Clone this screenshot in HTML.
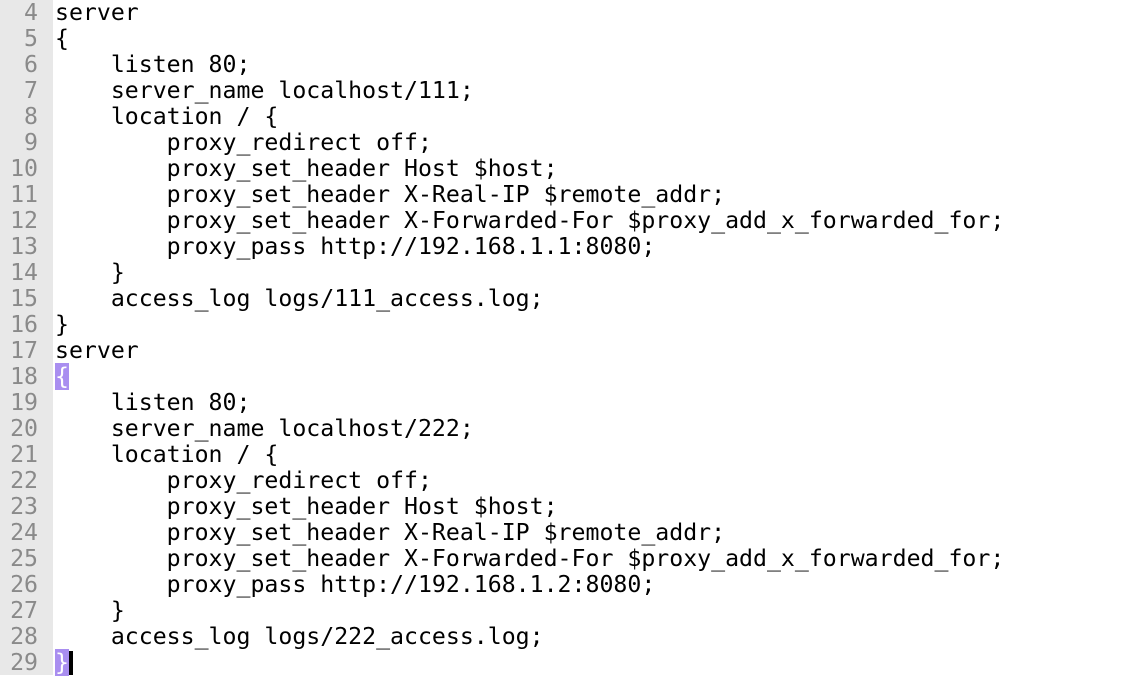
<!DOCTYPE html>
<html><head><style>
html,body{margin:0;padding:0;background:#fff;width:1136px;height:686px;overflow:hidden}
.g{position:absolute;left:0;top:0;width:53px;height:675px;background:#e8e8e8}
.w{position:absolute;left:0;top:0;font-family:"DejaVu Sans Mono","Liberation Mono",monospace;font-size:23.2px;line-height:26px}
.l{height:26px;white-space:pre;position:relative}
.n{display:inline-block;width:38px;text-align:right;color:#8a8a8a;margin-right:17px}
.c{color:#000}
.h{background:#a98ef0;color:#fff}
.cur{display:inline-block;width:4px;height:24px;background:#000;vertical-align:-5px}
</style></head><body>
<div class="g"></div>
<div class="w">
<div class="l"><span class="n">4</span><span class="c">server</span></div>
<div class="l"><span class="n">5</span><span class="c">{</span></div>
<div class="l"><span class="n">6</span><span class="c">    listen 80;</span></div>
<div class="l"><span class="n">7</span><span class="c">    server_name localhost/111;</span></div>
<div class="l"><span class="n">8</span><span class="c">    location / {</span></div>
<div class="l"><span class="n">9</span><span class="c">        proxy_redirect off;</span></div>
<div class="l"><span class="n">10</span><span class="c">        proxy_set_header Host $host;</span></div>
<div class="l"><span class="n">11</span><span class="c">        proxy_set_header X-Real-IP $remote_addr;</span></div>
<div class="l"><span class="n">12</span><span class="c">        proxy_set_header X-Forwarded-For $proxy_add_x_forwarded_for;</span></div>
<div class="l"><span class="n">13</span><span class="c">        proxy_pass http://192.168.1.1:8080;</span></div>
<div class="l"><span class="n">14</span><span class="c">    }</span></div>
<div class="l"><span class="n">15</span><span class="c">    access_log logs/111_access.log;</span></div>
<div class="l"><span class="n">16</span><span class="c">}</span></div>
<div class="l"><span class="n">17</span><span class="c">server</span></div>
<div class="l"><span class="n">18</span><span class="h">{</span></div>
<div class="l"><span class="n">19</span><span class="c">    listen 80;</span></div>
<div class="l"><span class="n">20</span><span class="c">    server_name localhost/222;</span></div>
<div class="l"><span class="n">21</span><span class="c">    location / {</span></div>
<div class="l"><span class="n">22</span><span class="c">        proxy_redirect off;</span></div>
<div class="l"><span class="n">23</span><span class="c">        proxy_set_header Host $host;</span></div>
<div class="l"><span class="n">24</span><span class="c">        proxy_set_header X-Real-IP $remote_addr;</span></div>
<div class="l"><span class="n">25</span><span class="c">        proxy_set_header X-Forwarded-For $proxy_add_x_forwarded_for;</span></div>
<div class="l"><span class="n">26</span><span class="c">        proxy_pass http://192.168.1.2:8080;</span></div>
<div class="l"><span class="n">27</span><span class="c">    }</span></div>
<div class="l"><span class="n">28</span><span class="c">    access_log logs/222_access.log;</span></div>
<div class="l"><span class="n">29</span><span class="h">}</span><span class="cur"></span></div>
</div>
</body></html>
